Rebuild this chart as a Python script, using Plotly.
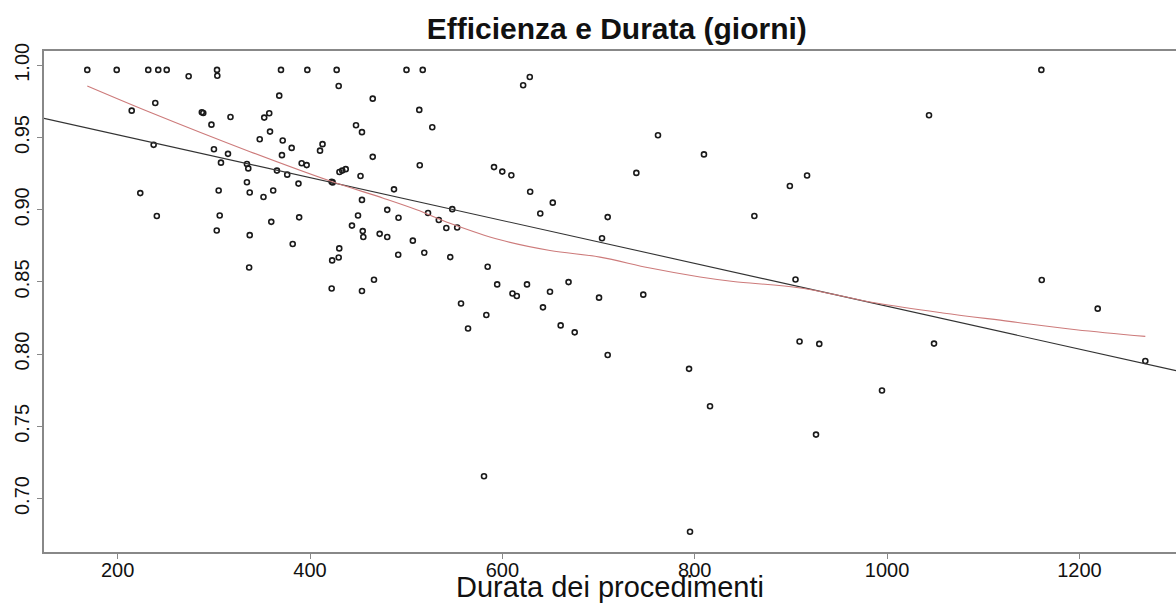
import numpy as np
import plotly.graph_objects as go

# Durata dei procedimenti (giorni) and Efficienza
durata = [
    168.4, 199.0, 231.8, 242.2, 251.0, 273.8, 303.3, 303.6, 369.8, 397.2,
    427.7, 429.8, 368.0, 465.2, 239.1, 214.6, 287.5, 289.0, 357.6, 352.4,
    317.3, 297.5, 447.8, 454.0, 358.4, 237.4, 347.7, 371.6, 413.0, 410.4,
    380.9, 300.1, 370.8, 465.2, 314.7, 307.4, 334.4, 335.8, 391.3, 396.5,
    365.6, 376.3, 430.6, 433.5, 437.1, 452.5, 422.5, 423.5, 334.4, 388.0,
    223.5, 305.0, 337.3, 361.7, 351.6, 487.3, 454.0, 240.7, 306.1, 303.0,
    337.3, 359.7, 388.7, 382.0, 336.7, 480.3, 492.0, 449.9, 443.6, 454.8,
    455.4, 472.4, 480.3, 430.4, 423.0, 429.8, 491.7, 466.5, 422.5, 454.0,
    500.3, 517.2, 628.5, 621.6, 513.6, 527.1, 514.1, 591.3, 599.9, 609.3,
    628.9, 652.4, 639.4, 547.9, 522.7, 533.9, 541.7, 553.0, 506.9, 518.8,
    545.8, 584.7, 594.6, 625.6, 610.5, 615.0, 649.5, 668.8, 557.0, 583.3,
    642.2, 660.6, 564.3, 761.8, 809.6, 739.3, 898.9, 709.5, 862.0, 703.6,
    700.5, 746.5, 904.8, 675.2, 709.5, 794.1, 909.0, 815.9, 580.9, 795.1,
    1160.4, 1043.6, 916.8, 1160.8, 1219.0, 929.5, 1048.8, 1268.5, 994.7, 926.1,
]
efficienza = [
    0.9968, 0.9968, 0.9968, 0.9968, 0.9968, 0.9924, 0.9968, 0.9928, 0.9968, 0.9968,
    0.9968, 0.9857, 0.9790, 0.9769, 0.9739, 0.9686, 0.9675, 0.9670, 0.9668, 0.9638,
    0.9642, 0.9589, 0.9585, 0.9537, 0.9541, 0.9449, 0.9488, 0.9479, 0.9454, 0.9409,
    0.9428, 0.9419, 0.9378, 0.9366, 0.9387, 0.9326, 0.9317, 0.9286, 0.9322, 0.9309,
    0.9271, 0.9243, 0.9261, 0.9271, 0.9281, 0.9233, 0.9193, 0.9189, 0.9190, 0.9181,
    0.9115, 0.9133, 0.9119, 0.9133, 0.9088, 0.9141, 0.9068, 0.8956, 0.8960, 0.8856,
    0.8824, 0.8916, 0.8947, 0.8763, 0.8600, 0.8999, 0.8944, 0.8960, 0.8890, 0.8852,
    0.8811, 0.8833, 0.8811, 0.8732, 0.8649, 0.8669, 0.8688, 0.8515, 0.8455, 0.8437,
    0.9968, 0.9968, 0.9919, 0.9862, 0.9691, 0.9571, 0.9308, 0.9295, 0.9264, 0.9239,
    0.9124, 0.9049, 0.8974, 0.9004, 0.8977, 0.8929, 0.8873, 0.8877, 0.8786, 0.8702,
    0.8672, 0.8605, 0.8483, 0.8483, 0.8420, 0.8403, 0.8432, 0.8499, 0.8351, 0.8271,
    0.8324, 0.8199, 0.8178, 0.9516, 0.9383, 0.9255, 0.9164, 0.8949, 0.8956, 0.8802,
    0.8391, 0.8412, 0.8517, 0.8151, 0.7994, 0.7898, 0.8088, 0.7639, 0.7155, 0.6770,
    0.9968, 0.9654, 0.9237, 0.8513, 0.8315, 0.8071, 0.8073, 0.7953, 0.7748, 0.7443,
]

# smoothed (lowess) curve
lowess_x = [168.4, 233.6, 337.6, 422.5, 476.2, 510.9, 545.5, 597.5, 649.5, 701.5,
            753.5, 805.5, 840.1, 909.8, 988.5, 1057.8, 1127.1, 1196.5, 1268.5]
lowess_y = [0.9857, 0.9675, 0.9402, 0.9195, 0.9080, 0.9000, 0.8907, 0.8792, 0.8718, 0.8672,
            0.8596, 0.8534, 0.8503, 0.8458, 0.8354, 0.8285, 0.8227, 0.8169, 0.8123]

x_range = [123.4, 1300.4]
y_range = [0.663, 1.0099]
x_ticks = [200, 400, 600, 800, 1000, 1200]
y_ticks = [0.70, 0.75, 0.80, 0.85, 0.90, 0.95, 1.00]

# least-squares regression line
slope, intercept = np.polyfit(durata, efficienza, 1)
reg_x = np.array(x_range)
reg_y = intercept + slope * reg_x

fig = go.Figure()
fig.add_trace(go.Scatter(
    x=durata, y=efficienza, mode="markers",
    marker=dict(symbol="circle-open", size=5, color="#1a1a1a", line=dict(width=1.6, color="#1a1a1a")),
    showlegend=False, hoverinfo="skip"))
fig.add_trace(go.Scatter(
    x=reg_x, y=reg_y, mode="lines",
    line=dict(color="#333333", width=1.1), showlegend=False, hoverinfo="skip"))
fig.add_trace(go.Scatter(
    x=lowess_x, y=lowess_y, mode="lines", line_shape="spline",
    line=dict(color="#cd7b7b", width=1.1), showlegend=False, hoverinfo="skip"))

font_family = "Liberation Sans, Arial, sans-serif"
fig.update_layout(
    width=1176, height=603,
    margin=dict(l=44, r=0, t=51, b=51),
    paper_bgcolor="white", plot_bgcolor="white",
    font=dict(family=font_family, color="#111111", size=20),
    title=dict(text="<b>Efficienza e Durata (giorni)</b>", x=0.5245, xanchor="center",
               y=0.953, yanchor="middle", font=dict(size=30, family=font_family, color="#111111")),
    xaxis=dict(range=x_range, tickvals=x_ticks, ticks="outside", ticklen=5, tickwidth=1,
               tickcolor="#888888", showline=True, linecolor="#888888", linewidth=1.5,
               mirror=True, showgrid=False, zeroline=False,
               tickfont=dict(size=20), ticklabelstandoff=-6,
               title=dict(text="Durata dei procedimenti", font=dict(size=29), standoff=2)),
    yaxis=dict(range=y_range, tickvals=y_ticks, tickformat=".2f", ticks="outside", ticklen=5,
               tickwidth=1, tickcolor="#888888", showline=True, linecolor="#888888",
               linewidth=1.5, showgrid=False, zeroline=False, tickangle=-90,
               tickfont=dict(size=20)),
)

fig.write_html("out.html", config={"displayModeBar": False})
